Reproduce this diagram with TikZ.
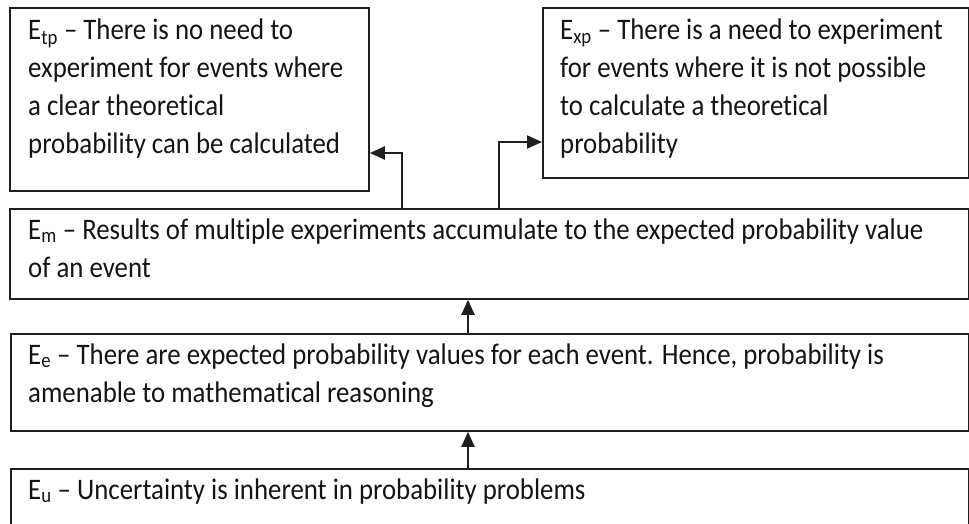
\documentclass[tikz,border=0pt]{standalone}
\usepackage{fontspec}
\setmainfont{Carlito}[FakeStretch=0.9,RawFeature=-liga]
\usetikzlibrary{arrows.meta,calc}
\begin{document}
\begin{tikzpicture}[x=1pt,y=-1pt,
  box/.style={draw=black!88,line width=1.8pt,rectangle,inner sep=0pt,anchor=north west},
  txt/.style={anchor=base west,inner sep=0pt,text=black!92,font=\fontsize{29.8}{38}\selectfont},
  arr/.style={draw=black!88,line width=2pt,-{Triangle[length=15pt,width=13pt]}}]
\clip (0,0) rectangle (969,524);
\node[box,minimum width=359pt,minimum height=183pt] (tp) at (9,7) {};
\node[box,minimum width=426pt,minimum height=170pt] (xp) at (542,7) {};
\node[box,minimum width=959pt,minimum height=90pt] (m) at (9,208) {};
\node[box,minimum width=958pt,minimum height=97pt] (e) at (10,333) {};
\node[box,minimum width=958pt,minimum height=90pt] (u) at (10,468) {};
\node[txt] (ttp) at (28,40) {\parbox[t]{400pt}{E\textsubscript{tp} – There is no need to\\experiment for events where\\a clear theoretical\\probability can be calculated}};
\node[txt] (txp) at (560,40) {\parbox[t]{420pt}{E\textsubscript{xp} – There is a need to experiment\\for events where it is not possible\\to calculate a theoretical\\probability}};
\node[txt] (tm) at (28,239) {\parbox[t]{950pt}{E\textsubscript{m} – Results of multiple experiments accumulate to the expected probability value\\of an event}};
\node[txt] (te) at (28,364) {\parbox[t]{950pt}{E\textsubscript{e} – There are expected probability values for each event. Hence, probability is\\amenable to mathematical reasoning}};
\node[txt] (tu) at (28,499) {E\textsubscript{u} – Uncertainty is inherent in probability problems};
\coordinate (a1) at ($(m.north west)+(393,0)$);
\coordinate (a2) at ($(m.north west)+(490,0)$);
\draw[arr] (a1) |- ($(tp.north east)+(0,146)$);
\draw[arr] (a2) |- ($(xp.north west)+(0,135)$);
\draw[arr] ($(e.north west)+(458,0)$) -- ($(m.south west)+(459,0)$);
\draw[arr] ($(u.north west)+(458,0)$) -- ($(e.south west)+(458,0)$);
\end{tikzpicture}
\end{document}
